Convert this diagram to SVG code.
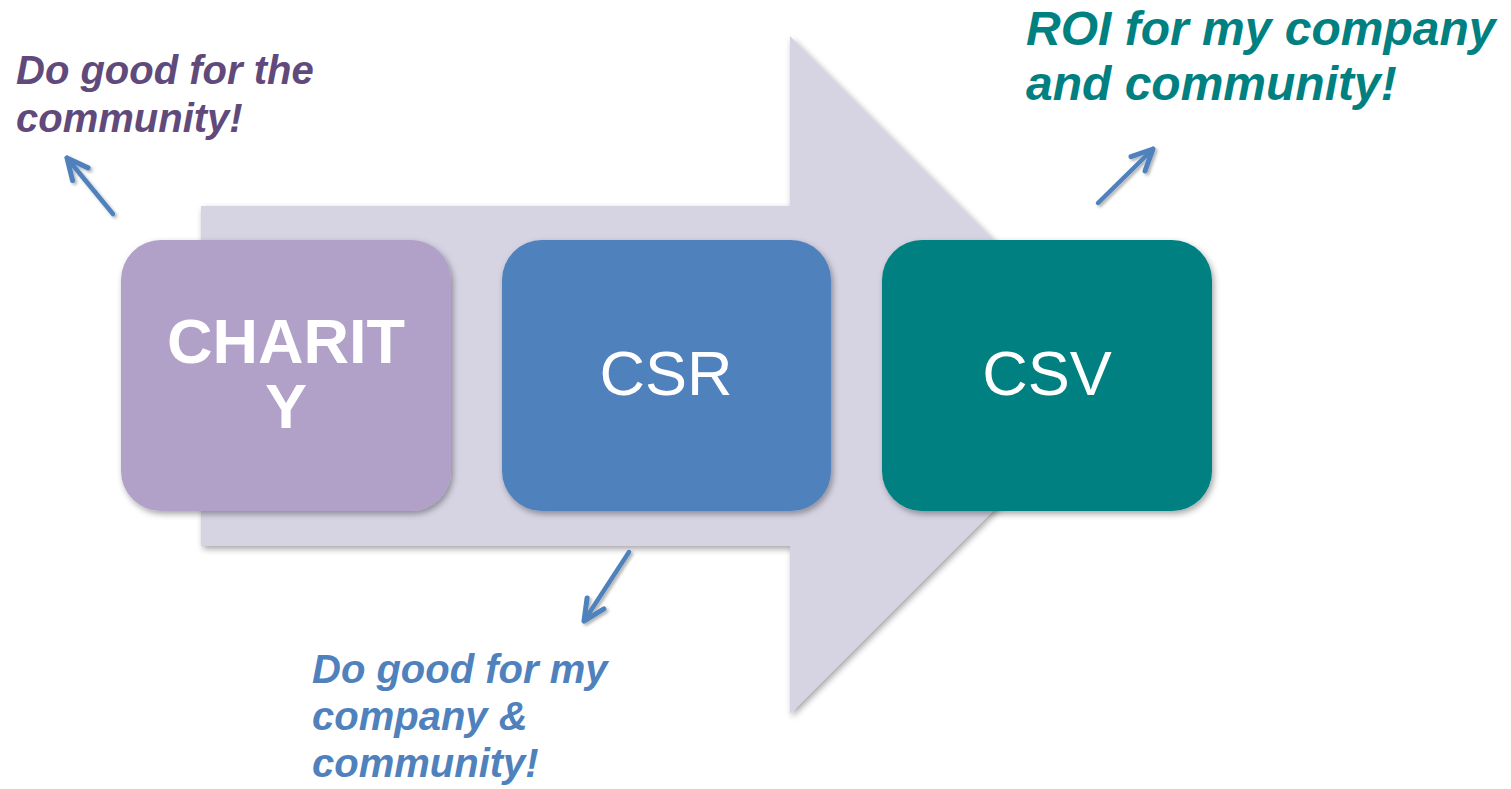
<svg xmlns="http://www.w3.org/2000/svg" width="1511" height="789" viewBox="0 0 1511 789">
  <style>
    .box-label { font-family: "Liberation Sans", Arial, sans-serif; fill: #FFFFFF; text-anchor: middle; font-size: 63px; }
    .bold { font-weight: bold; }
    .note { font-family: "Liberation Sans", Arial, sans-serif; font-weight: bold; font-style: italic; }
    .connector { fill: none; stroke: #4F81BD; stroke-width: 4.5; stroke-linecap: round; }
  </style>
  <defs>
    <filter id="softShadow" x="-10%" y="-10%" width="130%" height="130%">
      <feGaussianBlur in="SourceAlpha" stdDeviation="3"/>
      <feOffset dx="2" dy="3" result="blur"/>
      <feFlood flood-color="#000000" flood-opacity="0.35"/>
      <feComposite in2="blur" operator="in"/>
      <feMerge>
        <feMergeNode/>
        <feMergeNode in="SourceGraphic"/>
      </feMerge>
    </filter>
    <filter id="lineShadow" x="-30%" y="-30%" width="160%" height="160%">
      <feGaussianBlur in="SourceAlpha" stdDeviation="1.5"/>
      <feOffset dx="1.5" dy="2" result="blur"/>
      <feFlood flood-color="#000000" flood-opacity="0.3"/>
      <feComposite in2="blur" operator="in"/>
      <feMerge>
        <feMergeNode/>
        <feMergeNode in="SourceGraphic"/>
      </feMerge>
    </filter>
    <marker id="chevron" markerUnits="userSpaceOnUse" markerWidth="40" markerHeight="40"
            viewBox="-30 -20 40 40" refX="0" refY="0" orient="auto" overflow="visible">
      <path d="M -21 -10 L 0 0 L -21 10" fill="none" stroke="#4F81BD" stroke-width="5"
            stroke-linecap="round" stroke-linejoin="round"/>
    </marker>
  </defs>

  <!-- background process arrow -->
  <g id="process-arrow">
    <path d="M 201 206 L 790 206 L 790 36 L 1129 375 L 790 714 L 790 546 L 201 546 Z"
          fill="#D6D3E3" filter="url(#softShadow)"/>
  </g>

  <!-- stages -->
  <g id="charity">
    <rect x="121" y="240" width="330" height="271" rx="40" ry="40" fill="#B1A0C7" filter="url(#softShadow)"/>
    <text class="box-label bold" x="286" y="363">CHARIT</text>
    <text class="box-label bold" x="286" y="428">Y</text>
  </g>
  <g id="csr">
    <rect x="502" y="240" width="329" height="271" rx="40" ry="40" fill="#4F81BD" filter="url(#softShadow)"/>
    <text class="box-label" x="666" y="395">CSR</text>
  </g>
  <g id="csv">
    <rect x="882" y="240" width="330" height="271" rx="40" ry="40" fill="#008080" filter="url(#softShadow)"/>
    <text class="box-label" x="1047" y="395">CSV</text>
  </g>

  <!-- callout texts -->
  <g id="note-charity">
    <text class="note" x="16" y="84" font-size="40" fill="#604A7B">Do good for the</text>
    <text class="note" x="16" y="132" font-size="40" fill="#604A7B">community!</text>
  </g>
  <g id="note-csv">
    <text class="note" x="1026" y="45" font-size="48" fill="#008080">ROI for my company</text>
    <text class="note" x="1026" y="100" font-size="48" fill="#008080">and community!</text>
  </g>
  <g id="note-csr">
    <text class="note" x="312" y="683" font-size="40" fill="#4F81BD">Do good for my</text>
    <text class="note" x="312" y="730" font-size="40" fill="#4F81BD">company &amp;</text>
    <text class="note" x="312" y="777" font-size="40" fill="#4F81BD">community!</text>
  </g>

  <!-- connectors from stages to callouts -->
  <g id="connectors" filter="url(#lineShadow)">
    <line class="connector" x1="113" y1="214" x2="67" y2="158" marker-end="url(#chevron)"/>
    <line class="connector" x1="1098" y1="203" x2="1153" y2="149" marker-end="url(#chevron)"/>
    <line class="connector" x1="629" y1="552" x2="584" y2="621" marker-end="url(#chevron)"/>
  </g>
</svg>
